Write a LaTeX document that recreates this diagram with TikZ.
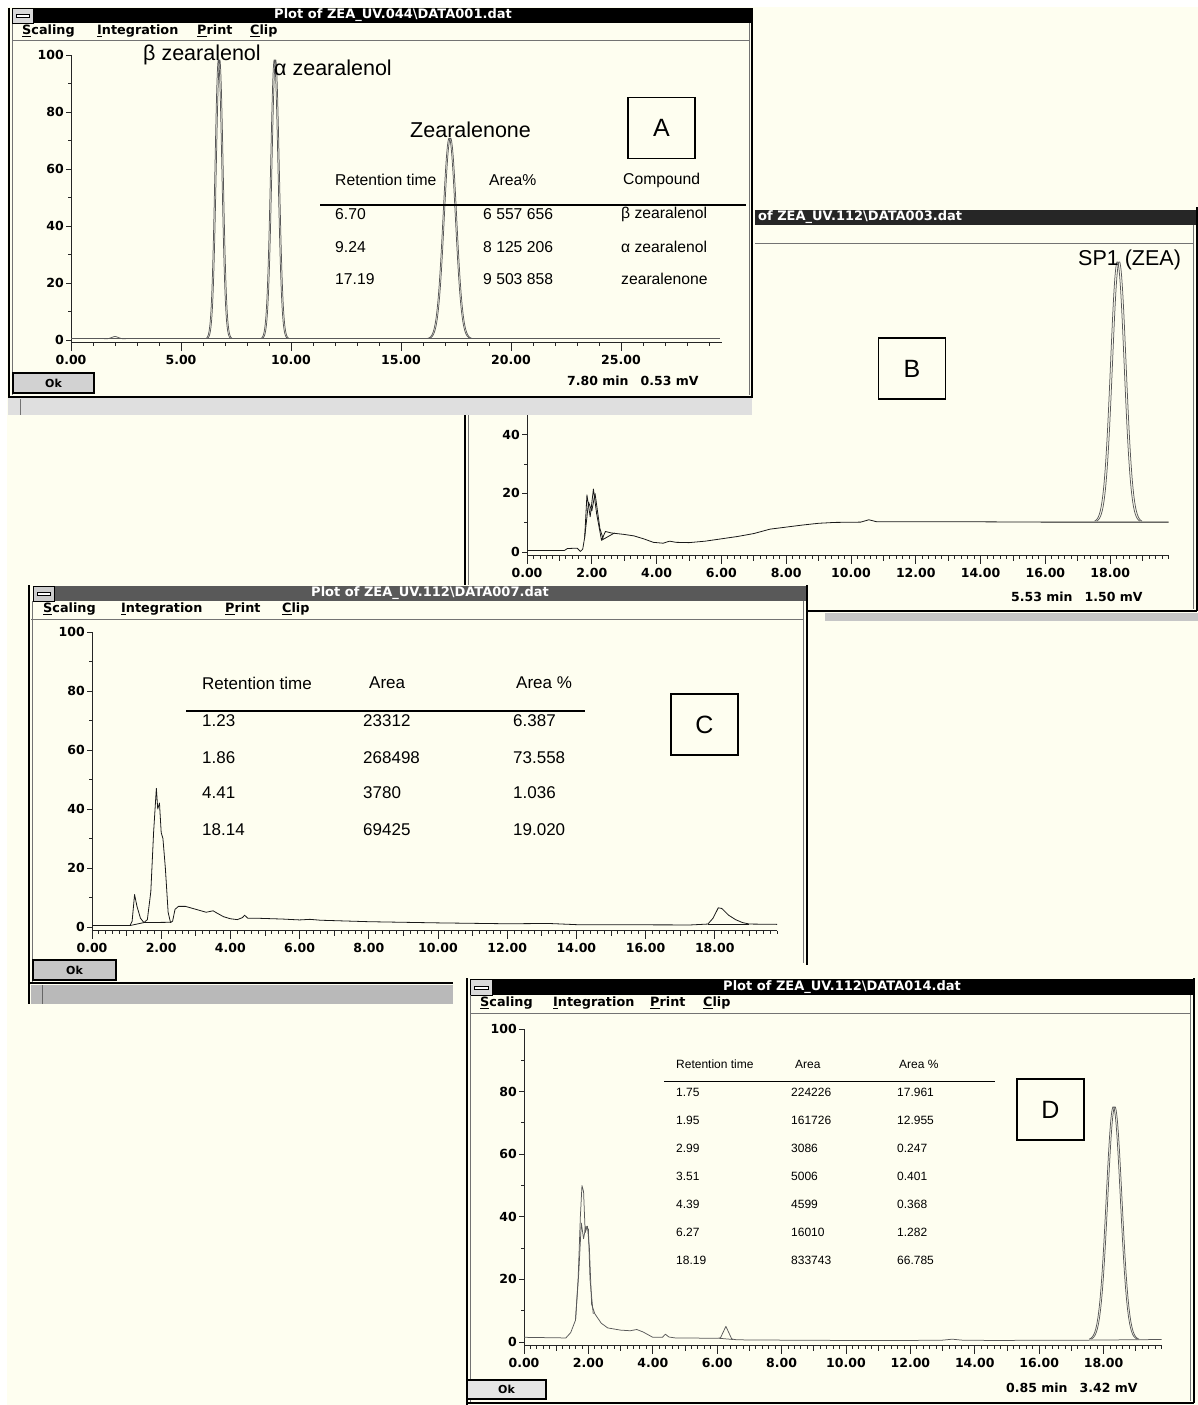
\documentclass[tikz,border=0pt]{standalone}
\usepackage{fontspec}
\setmainfont{Liberation Sans}
\newfontfamily\winf{DejaVu Sans}
\definecolor{cream}{RGB}{254,254,240}
\tikzset{
  ttl/.style={text=white,font=\winf\bfseries\fontsize{13}{15}\selectfont,inner sep=0pt},
  menu/.style={anchor=west,font=\winf\bfseries\fontsize{12.8}{14}\selectfont,inner sep=0pt},
  axl/.style={font=\winf\bfseries\fontsize{12.5}{14}\selectfont,inner sep=1pt},
  axln/.style={line width=0.9pt,black!85},
  tblA/.style={anchor=west,font=\fontsize{15.7}{18}\selectfont,inner sep=0pt},
  tblC/.style={anchor=west,font=\fontsize{17}{19}\selectfont,inner sep=0pt},
  tblD/.style={anchor=west,font=\fontsize{12}{14}\selectfont,inner sep=0pt},
  bigl/.style={anchor=west,font=\fontsize{21.5}{24}\selectfont,inner sep=0pt},
  boxl/.style={draw,line width=1.1pt,minimum width=67pt,minimum height=61pt,font=\fontsize{25}{28}\selectfont},
  okb/.style={draw,line width=1.6pt,fill=gray!35,font=\winf\bfseries\fontsize{11}{13}\selectfont},
  trace/.style={line width=0.8pt,black!90,line join=round},
  pkline/.style={line width=0.75pt,black!65,line join=round},
  frm/.style={line width=1.4pt,black},
  frmin/.style={line width=0.8pt,black!55},
}
\newcommand\chromaxes[1]{%
  \draw[axln] (0,-1.2) -- (0,100);
  \foreach \v [count=\i] in {0,20,...,100} {\draw[axln] (0,\v) -- ++(-5pt,0pt);
    \node[axl,anchor=east,name=#1y\i] at ([xshift=-6pt]0,\v) {\v};}
  \foreach \v in {10,30,...,90} \draw[axln] (0,\v) -- ++(-3pt,0pt);
  \draw[axln] (0,-1.2) -- (19.8,-1.2);
  \foreach \t/\l [count=\i] in {0/0.00,2/2.00,4/4.00,6/6.00,8/8.00,10/10.00,12/12.00,14/14.00,16/16.00,18/18.00} {%
    \draw[axln] (\t,-1.2) -- ++(0pt,-8pt);
    \node[axl,anchor=north,name=#1x\i] at ([yshift=-11pt]\t,-1.2) {\l};}
  \foreach \t in {1,3,...,19} \draw[axln] (\t,-1.2) -- ++(0pt,-5pt);
  \foreach \t in {0.2,0.4,...,19.8} \draw[axln] (\t,-1.2) -- ++(0pt,-3pt);
}
\begin{document}
\begin{tikzpicture}[x=1pt,y=-1pt]
\useasboundingbox (0,0) rectangle (1198,1405);
\fill[cream] (0,0) rectangle (1198,1405);
\fill[white] (0,0) rectangle (1198,7);
\fill[white] (0,0) rectangle (7,1405);

%================ Window B (behind) ================
\fill[cream] (465,207) rectangle (1198,611);
\fill[black!85] (755,210) rectangle (1197,225);
\node[ttl,anchor=west] (tB) at (758,217.5) {of ZEA\_UV.112\textbackslash DATA003.dat};
\draw[frmin] (755,243) -- (1193,243);
\draw[frm] (1197,207) -- (1197,611);
\draw[frmin] (1193,225) -- (1193,609);
\draw[frm] (465,400) -- (465,611) -- (1197,611);
\draw[frmin] (468,400) -- (468,608);
\fill[gray!45] (825,613) rectangle (1198,621);
\begin{scope}[shift={(527,552)},x=32.4pt,y=2.93pt]
  \chromaxes{B}
  \draw[trace] (0,0.5) -- (1.15,0.5) -- (1.25,1.2) -- (1.55,1.3) -- (1.65,0.2) -- (1.72,1) -- (1.78,5)
    -- (1.85,19.5) -- (1.95,12) -- (2.05,21.5) -- (2.15,13) -- (2.3,4) -- (2.42,7) -- (2.6,6.5)
    -- (3.0,6) -- (3.3,5.5) -- (3.6,4.5) -- (3.9,3.3) -- (4.2,3.0) -- (4.4,3.7) -- (4.6,3.3)
    -- (5.0,3.2) -- (5.5,3.7) -- (6.0,4.5) -- (6.5,5.3) -- (7.0,6.3) -- (7.5,7.8) -- (8.0,8.5)
    -- (8.5,9.2) -- (9.0,9.8) -- (9.5,10.1) -- (10.3,10.2) -- (10.55,11) -- (10.8,10.3)
    -- (12,10.3) -- (14,10.3) -- (16,10.2) -- (19.8,10.2);
  \draw[trace] (1.78,5) -- (1.9,17) -- (2.0,14) -- (2.1,20) -- (2.25,8) -- (2.35,4.5);
  \draw[trace] (2.3,4) -- (2.7,6.5);
  \foreach \o in {0,0.06}
    \draw[pkline] plot[domain=17.52:18.92,samples=50,smooth] ({\x+\o},{10.2+89*exp(-((\x-18.22)*(\x-18.22)/0.0882))});
\end{scope}
\node[bigl] (sp1) at (1078,260) {SP1 (ZEA)};
\node[boxl] (boxB) at (912,368.5) {B};
\node[axl,anchor=west] (stB) at (1010,597) {5.53 min\hspace{12pt}1.50 mV};

%================ Window A ================
\fill[cream] (8,8) rectangle (754,397);
\fill[gray!25] (8,397) rectangle (752,415);
\draw[black!55] (20,399) -- (20,415);
\draw[frm] (9,8) -- (9,397) -- (752,397) -- (752,8);
\draw[frmin] (12,23) -- (12,395);
\draw[frmin] (749,23) -- (749,395);
\fill[black] (12,8) rectangle (752,23);
\filldraw[fill=gray!30,draw=black] (12,8) rectangle (33,23);
\draw[fill=white,line width=0.6pt] (16,14) rectangle (29,17);
\node[ttl] (tA) at (393,15.5) {Plot of ZEA\_UV.044\textbackslash DATA001.dat};
\node[menu] (mA1) at (22,31) {\underline{S}caling};
\node[menu] (mA2) at (97,31) {\underline{I}ntegration};
\node[menu] (mA3) at (197,31) {\underline{P}rint};
\node[menu] (mA4) at (250,31) {\underline{C}lip};
\draw[frmin] (12,40) -- (749,40);
\begin{scope}[shift={(71,340)},x=22pt,y=2.85pt]
  \draw[axln] (0,-1) -- (0,100);
  \foreach \v [count=\i] in {0,20,...,100} {\draw[axln] (0,\v) -- ++(-5pt,0pt);
    \node[axl,anchor=east,name=Ay\i] at ([xshift=-6pt]0,\v) {\v};}
  \foreach \v in {10,30,...,90} \draw[axln] (0,\v) -- ++(-3pt,0pt);
  \draw[axln] (0,-1) -- (29.6,-1);
  \foreach \t/\l [count=\i] in {0/0.00,5/5.00,10/10.00,15/15.00,20/20.00,25/25.00} {%
    \draw[axln] (\t,-1) -- ++(0pt,-8pt);
    \node[axl,anchor=north,name=Ax\i] at ([yshift=-11pt]\t,-1) {\l};}
  \foreach \t in {1,...,29} \draw[axln] (\t,-1) -- ++(0pt,-3.5pt);
  \draw[pkline] (0,0.4) -- (29.5,0.4);
  \draw[pkline] plot[domain=1.5:2.5,samples=30,smooth] (\x,{0.4+0.8*exp(-((\x-2)*(\x-2)/0.045))});
  \foreach \o in {0,0.06} {
    \draw[pkline] plot[domain=6.15:7.25,samples=60,smooth] ({\x+\o},{0.4+98*exp(-((\x-6.7)*(\x-6.7)/0.05))});
    \draw[pkline] plot[domain=8.64:9.84,samples=60,smooth] ({\x+\o},{0.4+98*exp(-((\x-9.24)*(\x-9.24)/0.0578))});
    \draw[pkline] plot[domain=16.19:18.19,samples=60,smooth] ({\x+\o},{0.4+70.5*exp(-((\x-17.19)*(\x-17.19)/0.157))});
  }
\end{scope}
\node[bigl] (lbeta) at (143,55) {β zearalenol};
\node[bigl] (lalpha) at (274,68) {α zearalenol};
\node[bigl] (lzea) at (410,130) {Zearalenone};
\node[boxl] (boxA) at (661.5,128) {A};
\node[tblA] (hA1) at (335,180) {Retention time};
\node[tblA] (hA2) at (489,180) {Area\%};
\node[tblA] (hA3) at (623,180) {Compound};
\draw[line width=1.3pt] (320,205) -- (746,205);
\foreach \yy/\ca/\cb/\cc [count=\i] in {214/6.70/6 557 656/β zearalenol,247/9.24/8 125 206/α zearalenol,279/17.19/9 503 858/zearalenone} {
  \node[tblA,name=rA\i a] at (335,\yy) {\ca};
  \node[tblA,name=rA\i b] at (483,\yy) {\cb};
  \node[tblA,name=rA\i c] at (621,\yy) {\cc};
}
\node[okb,minimum width=81pt,minimum height=20pt] (okA) at (53.5,383) {Ok};
\node[axl,anchor=west] (stA) at (566,381) {7.80 min\hspace{12pt}0.53 mV};

%================ Window C ================
\fill[cream] (28,585) rectangle (808,965);
\fill[cream] (28,965) rectangle (453,985);
\fill[black!65] (33,586) rectangle (806,601);
\filldraw[fill=gray!40,draw=black] (33,586) rectangle (54,601);
\draw[fill=white,line width=0.6pt] (37,592) rectangle (50,595);
\node[ttl] (tC) at (430,593.5) {Plot of ZEA\_UV.112\textbackslash DATA007.dat};
\node[menu] (mC1) at (43,609) {\underline{S}caling};
\node[menu] (mC2) at (121,609) {\underline{I}ntegration};
\node[menu] (mC3) at (225,609) {\underline{P}rint};
\node[menu] (mC4) at (282,609) {\underline{C}lip};
\draw[frmin] (31,619) -- (803,619);
\draw[frm] (29,585) -- (29,1004);
\draw[frmin] (32,601) -- (32,982);
\draw[frm] (807,585) -- (807,965);
\draw[frmin] (803,601) -- (803,963);
\draw[frm] (29,983) -- (453,983);
\fill[gray!55] (31,985) rectangle (453,1004);
\draw[black!60] (42,985) -- (42,1004);
\begin{scope}[shift={(92,927)},x=34.6pt,y=2.95pt]
  \chromaxes{C}
  \draw[trace] (0,0.5) -- (1.1,0.5) -- (1.16,2) -- (1.23,11) -- (1.3,7) -- (1.4,3) -- (1.5,1.5)
    -- (1.6,2.5) -- (1.7,12) -- (1.78,32) -- (1.86,47) -- (1.9,40) -- (1.95,42) -- (2.0,32)
    -- (2.05,30) -- (2.12,20) -- (2.2,5) -- (2.27,1.5) -- (2.33,2) -- (2.4,6) -- (2.5,7)
    -- (2.7,7) -- (3.0,6) -- (3.3,5) -- (3.5,5.5) -- (3.6,4.8) -- (3.8,3.5) -- (4.0,2.8)
    -- (4.2,2.5) -- (4.35,3.2) -- (4.41,4) -- (4.5,3) -- (4.7,3) -- (5.5,2.7) -- (6.0,2.4)
    -- (6.3,2.6) -- (6.6,2.3) -- (8.0,1.8) -- (10,1.4) -- (12,1.1) -- (13.2,1.2) -- (14,0.8)
    -- (17.3,0.7) -- (17.8,1.0) -- (17.95,3) -- (18.1,6.5) -- (18.2,6.3) -- (18.4,4)
    -- (18.6,2.5) -- (18.8,1.5) -- (19.0,1.0) -- (19.8,0.9);
  \draw[trace] (1.1,0.5) -- (1.5,1.5) -- (2.27,1.6);
  \draw[trace] (17.8,1.0) -- (19.0,1.0);
\end{scope}
\node[tblC] (hC1) at (202,683) {Retention time};
\node[tblC] (hC2) at (369,683) {Area};
\node[tblC] (hC3) at (516,683) {Area \%};
\draw[line width=1.3pt] (186,711) -- (585,711);
\foreach \yy/\ca/\cb/\cc [count=\i] in {721/1.23/23312/6.387,758/1.86/268498/73.558,793/4.41/3780/1.036,830/18.14/69425/19.020} {
  \node[tblC,name=rC\i a] at (202,\yy) {\ca};
  \node[tblC,name=rC\i b] at (363,\yy) {\cb};
  \node[tblC,name=rC\i c] at (513,\yy) {\cc};
}
\node[boxl] (boxC) at (704.5,724.5) {C};
\node[okb,fill=gray!45,minimum width=83pt,minimum height=20pt] (okC) at (74.5,970) {Ok};

%================ Window D ================
\fill[cream] (466,978) rectangle (1196,1405);
\fill[black] (470,979) rectangle (1193,995);
\filldraw[fill=gray!30,draw=black] (470,979) rectangle (492,995);
\draw[fill=white,line width=0.6pt] (474,986) rectangle (488,989);
\node[ttl] (tD) at (842,987) {Plot of ZEA\_UV.112\textbackslash DATA014.dat};
\node[menu] (mD1) at (480,1003) {\underline{S}caling};
\node[menu] (mD2) at (553,1003) {\underline{I}ntegration};
\node[menu] (mD3) at (650,1003) {\underline{P}rint};
\node[menu] (mD4) at (703,1003) {\underline{C}lip};
\draw[frmin] (470,1013) -- (1190,1013);
\draw[frm] (467,978) -- (467,1405);
\draw[frmin] (470,995) -- (470,1402);
\draw[frm] (1194,978) -- (1194,1403);
\draw[frmin] (1190,995) -- (1190,1401);
\draw[frm] (467,1403) -- (1194,1403);
\begin{scope}[shift={(524,1342)},x=32.2pt,y=3.13pt]
  \chromaxes{D}
  \draw[pkline] (0,1.5) -- (1.3,1.3) -- (1.45,3) -- (1.6,7) -- (1.68,20) -- (1.75,40) -- (1.8,50)
    -- (1.85,48) -- (1.9,35) -- (1.97,37) -- (2.03,30) -- (2.1,12) -- (2.2,9) -- (2.4,6)
    -- (2.6,4.5) -- (3.0,3.8) -- (3.3,3.6) -- (3.5,4) -- (3.7,3.2) -- (4.0,1.5) -- (4.3,1.5)
    -- (4.39,2.5) -- (4.5,1.6) -- (4.7,1.3) -- (6.0,1.2) -- (6.1,1.3) -- (6.27,5) -- (6.45,1.0)
    -- (6.6,0.7) -- (8,0.6) -- (10,0.5) -- (12,0.5) -- (13.0,0.6) -- (13.3,0.9) -- (13.6,0.6)
    -- (14.5,0.5) -- (17.5,0.6) -- (19.8,0.8);
  \draw[pkline] (1.6,7) -- (1.7,22) -- (1.78,38) -- (1.85,33) -- (1.92,37) -- (2.0,36) -- (2.05,20) -- (2.15,9);
  \draw[pkline] (6.05,1.2) -- (6.5,0.8);
  \foreach \o in {0,0.05}
    \draw[pkline] plot[domain=17.55:19.05,samples=60,smooth] ({\x+\o},{0.7+74.5*exp(-((\x-18.3)*(\x-18.3)/0.0968))});
\end{scope}
\node[tblD] (hD1) at (676,1064) {Retention time};
\node[tblD] (hD2) at (795,1064) {Area};
\node[tblD] (hD3) at (899,1064) {Area \%};
\draw[line width=0.9pt] (664,1081) -- (995,1081);
\foreach \yy/\ca/\cb/\cc [count=\i] in {1092/1.75/224226/17.961,1120/1.95/161726/12.955,1148/2.99/3086/0.247,1176/3.51/5006/0.401,1204/4.39/4599/0.368,1232/6.27/16010/1.282,1260/18.19/833743/66.785} {
  \node[tblD,name=rD\i a] at (676,\yy) {\ca};
  \node[tblD,name=rD\i b] at (791,\yy) {\cb};
  \node[tblD,name=rD\i c] at (897,\yy) {\cc};
}
\node[boxl] (boxD) at (1050.5,1109.5) {D};
\node[okb,fill=gray!20,minimum width=79pt,minimum height=19pt] (okD) at (506.5,1389.5) {Ok};
\node[axl,anchor=west] (stD) at (1005,1388) {0.85 min\hspace{12pt}3.42 mV};
\end{tikzpicture}
\end{document}
